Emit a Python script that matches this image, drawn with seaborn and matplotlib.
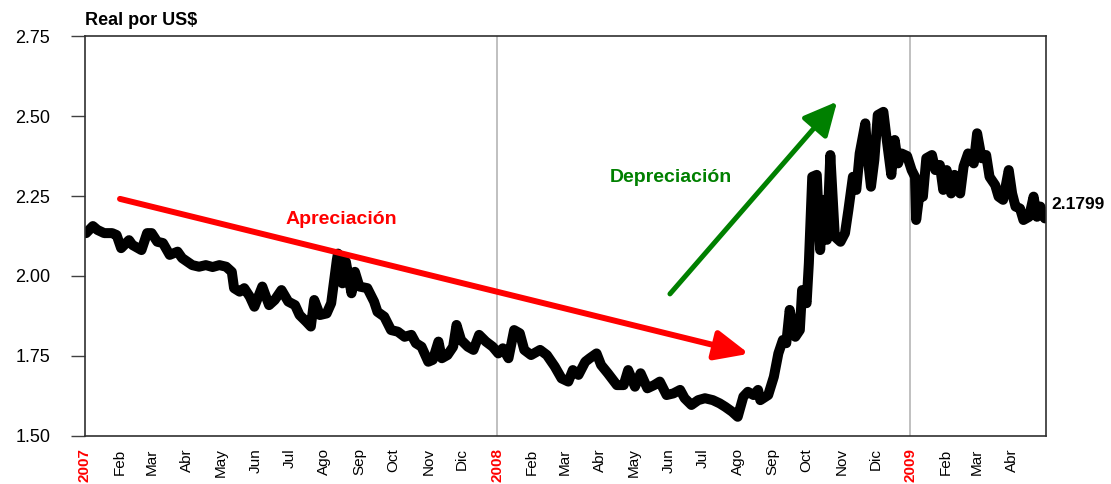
import pandas as pd
import matplotlib
matplotlib.use("Agg")
import matplotlib.pyplot as plt
import seaborn as sns

# BRL per USD
dates = [
    "2007-01-02", "2007-01-08", "2007-01-12", "2007-01-18", "2007-01-25", "2007-01-29",
    "2007-02-02", "2007-02-09", "2007-02-12", "2007-02-20", "2007-02-25", "2007-03-01",
    "2007-03-06", "2007-03-11", "2007-03-17", "2007-03-24", "2007-03-28", "2007-04-06",
    "2007-04-12", "2007-04-18", "2007-04-24", "2007-04-30", "2007-05-06", "2007-05-11",
    "2007-05-13", "2007-05-18", "2007-05-22", "2007-05-27", "2007-05-31", "2007-06-07",
    "2007-06-13", "2007-06-18", "2007-06-24", "2007-06-30", "2007-07-06", "2007-07-10",
    "2007-07-16", "2007-07-20", "2007-07-23", "2007-07-28", "2007-08-03", "2007-08-07",
    "2007-08-12", "2007-08-13", "2007-08-14", "2007-08-17", "2007-08-20", "2007-08-25",
    "2007-08-28", "2007-09-01", "2007-09-08", "2007-09-14", "2007-09-17", "2007-09-23",
    "2007-09-29", "2007-10-05", "2007-10-11", "2007-10-17", "2007-10-21", "2007-10-26",
    "2007-11-01", "2007-11-05", "2007-11-10", "2007-11-13", "2007-11-18", "2007-11-23",
    "2007-11-26", "2007-11-30", "2007-12-06", "2007-12-11", "2007-12-16", "2007-12-22",
    "2007-12-28", "2008-01-02", "2008-01-06", "2008-01-11", "2008-01-16", "2008-01-21",
    "2008-01-25", "2008-01-31", "2008-02-08", "2008-02-14", "2008-02-21", "2008-02-27",
    "2008-03-04", "2008-03-08", "2008-03-13", "2008-03-19", "2008-03-23", "2008-03-29",
    "2008-04-02", "2008-04-08", "2008-04-16", "2008-04-22", "2008-04-26", "2008-05-02",
    "2008-05-07", "2008-05-13", "2008-05-19", "2008-05-24", "2008-05-30", "2008-06-05",
    "2008-06-11", "2008-06-15", "2008-06-21", "2008-06-27", "2008-07-03", "2008-07-10",
    "2008-07-16", "2008-07-21", "2008-07-27", "2008-08-01", "2008-08-06", "2008-08-10",
    "2008-08-15", "2008-08-19", "2008-08-21", "2008-08-28", "2008-09-02", "2008-09-06",
    "2008-09-10", "2008-09-13", "2008-09-16", "2008-09-21", "2008-09-25", "2008-09-27",
    "2008-10-01", "2008-10-03", "2008-10-06", "2008-10-10", "2008-10-13", "2008-10-16",
    "2008-10-19", "2008-10-22", "2008-10-26", "2008-10-31", "2008-11-04", "2008-11-07",
    "2008-11-11", "2008-11-14", "2008-11-17", "2008-11-22", "2008-11-24", "2008-11-27",
    "2008-11-30", "2008-12-03", "2008-12-08", "2008-12-11", "2008-12-15", "2008-12-18",
    "2008-12-21", "2008-12-24", "2008-12-29", "2009-01-02", "2009-01-05", "2009-01-06",
    "2009-01-09", "2009-01-12", "2009-01-15", "2009-01-20", "2009-01-23", "2009-01-27",
    "2009-01-30", "2009-02-02", "2009-02-06", "2009-02-09", "2009-02-14", "2009-02-17",
    "2009-02-21", "2009-02-26", "2009-03-01", "2009-03-05", "2009-03-09", "2009-03-12",
    "2009-03-17", "2009-03-20", "2009-03-24", "2009-03-29", "2009-04-01", "2009-04-04",
    "2009-04-08", "2009-04-11", "2009-04-16", "2009-04-20", "2009-04-23", "2009-04-26",
    "2009-04-30",
]
rate = [
    2.134, 2.156, 2.144, 2.134, 2.134, 2.128,
    2.087, 2.112, 2.097, 2.081, 2.134, 2.134,
    2.107, 2.103, 2.066, 2.076, 2.056, 2.034,
    2.029, 2.034, 2.028, 2.034, 2.029, 2.013,
    1.962, 1.951, 1.962, 1.935, 1.904, 1.967,
    1.909, 1.925, 1.956, 1.920, 1.909, 1.878,
    1.857, 1.842, 1.925, 1.878, 1.883, 1.915,
    2.050, 2.070, 2.056, 1.977, 2.045, 1.946,
    2.013, 1.967, 1.962, 1.920, 1.888, 1.873,
    1.831, 1.826, 1.810, 1.816, 1.790, 1.779,
    1.732, 1.738, 1.795, 1.743, 1.753, 1.779,
    1.847, 1.800, 1.779, 1.769, 1.816, 1.795,
    1.779, 1.758, 1.774, 1.743, 1.831, 1.821,
    1.769, 1.753, 1.769, 1.753, 1.717, 1.680,
    1.670, 1.706, 1.691, 1.732, 1.743, 1.758,
    1.722, 1.696, 1.659, 1.659, 1.706, 1.654,
    1.696, 1.649, 1.659, 1.670, 1.628, 1.633,
    1.644, 1.618, 1.597, 1.612, 1.618, 1.612,
    1.602, 1.591, 1.576, 1.560, 1.623, 1.638,
    1.628, 1.644, 1.612, 1.628, 1.685, 1.758,
    1.800, 1.790, 1.894, 1.810, 1.831, 1.956,
    1.915, 2.040, 2.310, 2.316, 2.081, 2.238,
    2.113, 2.378, 2.123, 2.107, 2.134, 2.206,
    2.310, 2.269, 2.383, 2.477, 2.373, 2.279,
    2.363, 2.503, 2.513, 2.425, 2.316, 2.425,
    2.352, 2.383, 2.375, 2.331, 2.310, 2.175,
    2.258, 2.248, 2.368, 2.378, 2.331, 2.347,
    2.269, 2.331, 2.258, 2.316, 2.258, 2.342,
    2.383, 2.352, 2.446, 2.368, 2.378, 2.310,
    2.284, 2.248, 2.238, 2.331, 2.258, 2.217,
    2.211, 2.175, 2.185, 2.248, 2.185, 2.217,
    2.180,
]
month_names = ["Ene", "Feb", "Mar", "Abr", "May", "Jun",
               "Jul", "Ago", "Sep", "Oct", "Nov", "Dic"]
y_ticks = [1.50, 1.75, 2.00, 2.25, 2.50, 2.75]
last_label = "2.1799"

df = pd.DataFrame({"fecha": pd.to_datetime(dates), "real": rate})

sns.set_style("white")
plt.rcParams["font.family"] = ["Liberation Sans", "DejaVu Sans"]
plt.rcParams["text.color"] = "black"
plt.rcParams["xtick.color"] = "black"
plt.rcParams["ytick.color"] = "black"

fig = plt.figure(figsize=(11.11, 4.84), dpi=100)
ax = fig.add_axes([0.0765, 0.0992, 0.865, 0.8264])

# year gridlines
for yr in ["2008-01-01", "2009-01-01"]:
    ax.axvline(pd.Timestamp(yr), color="#c0c0c0", lw=1.4, zorder=0)

sns.lineplot(data=df, x="fecha", y="real", ax=ax, color="black", lw=7.2,
             estimator=None, solid_joinstyle="round", solid_capstyle="round")

ax.set_xlim(pd.Timestamp("2007-01-01"), pd.Timestamp("2009-05-01"))
ax.set_ylim(1.50, 2.75)
ax.set_yticks(y_ticks)
ax.set_yticklabels([f"{v:.2f}" for v in y_ticks], fontsize=13)
ax.tick_params(axis="y", direction="out", length=10, width=1, color="#404040", pad=15, left=True)

ticks = pd.date_range("2007-01-01", "2009-04-01", freq="MS")
ax.set_xticks(ticks)
ax.set_xticklabels([str(t.year) if t.month == 1 else month_names[t.month - 1] for t in ticks],
                   rotation=90, fontsize=11, va="top")
for t, lab in zip(ticks, ax.get_xticklabels()):
    if t.month == 1:
        lab.set_color("red")
        lab.set_fontweight("bold")
ax.tick_params(axis="x", length=0, pad=9)

for s in ax.spines.values():
    s.set_color("#303030")
    s.set_linewidth(1.2)

ax.set_xlabel("")
ax.set_ylabel("")
ax.set_title("Real por US$", loc="left", fontsize=13, fontweight="bold", pad=8, x=0.0,
             color="black")

# trend arrows
ax.annotate("", xy=(pd.Timestamp("2008-08-11"), 1.757), xytext=(pd.Timestamp("2007-02-01"), 2.241),
            arrowprops=dict(arrowstyle="-|>,head_length=0.45,head_width=0.2", color="red",
                            lw=4.3, mutation_scale=45, shrinkA=0, shrinkB=0))
ax.annotate("", xy=(pd.Timestamp("2008-10-28"), 2.545), xytext=(pd.Timestamp("2008-06-02"), 1.944),
            arrowprops=dict(arrowstyle="-|>,head_length=0.45,head_width=0.22", color="green",
                            lw=3.6, mutation_scale=45, shrinkA=0, shrinkB=0))
ax.text(pd.Timestamp("2007-08-16"), 2.175, "Apreciación", color="red", fontsize=14,
        fontweight="bold", ha="center", va="center")
ax.text(pd.Timestamp("2008-06-03"), 2.309, "Depreciación", color="green", fontsize=14,
        fontweight="bold", ha="center", va="center")
ax.text(1.006, 2.225, last_label, transform=ax.get_yaxis_transform(), fontsize=12.5,
        fontweight="bold", ha="left", va="center", color="black")

fig.savefig("out.png", dpi=100)
